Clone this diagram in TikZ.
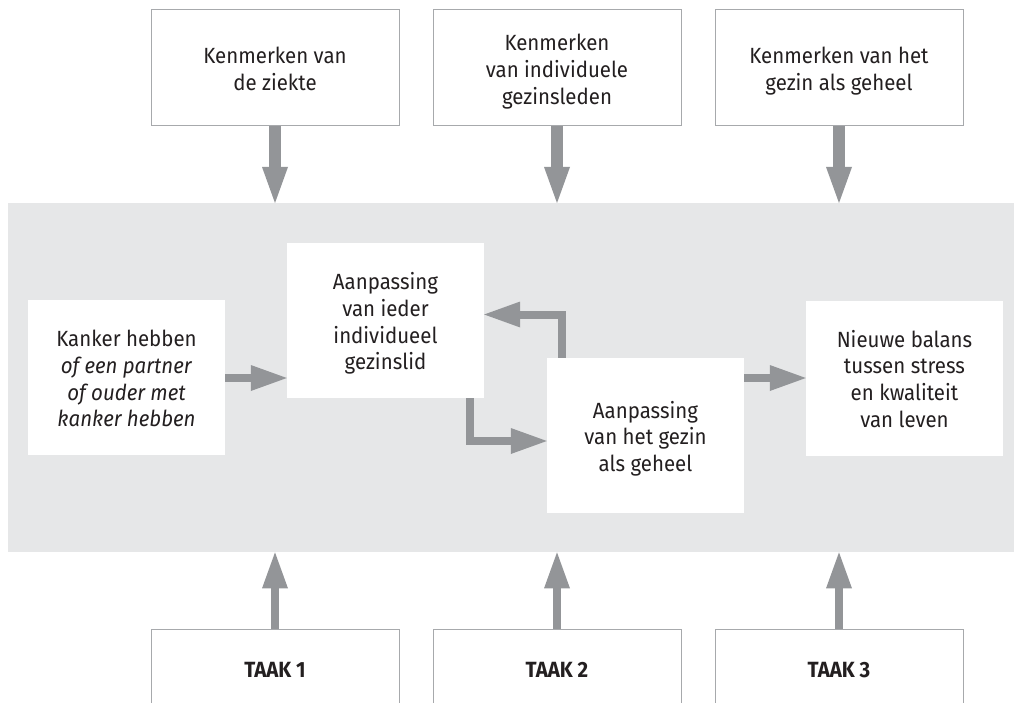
\documentclass[tikz,border=0pt]{standalone}
\usepackage{fontspec}
\setmainfont{Fira Sans}[FakeStretch=0.93]
\usetikzlibrary{arrows.meta}
\definecolor{arrgray}{HTML}{939598}
\definecolor{bggray}{HTML}{E6E7E8}
\definecolor{bordergray}{HTML}{A7A9AC}
\definecolor{textc}{HTML}{231F20}
\newcommand\lowtext[1]{\raisebox{-4pt}[\height][\depth]{\begin{tabular}{@{}c@{}}#1\end{tabular}}}
\tikzset{
  boxtext/.style={align=center, text=textc, font=\fontsize{22}{26.7}\selectfont, inner sep=0pt},
  topbox/.style={boxtext, draw=bordergray, line width=1pt, fill=white, minimum width=248pt, minimum height=116pt},
  taakbox/.style={topbox, minimum height=82pt, font=\fontsize{22}{26}\selectfont\bfseries},
  inbox/.style={boxtext, fill=white, minimum width=197pt, minimum height=155pt},
  conn/.style={draw=arrgray, line width=8pt, line join=miter, -{Triangle[length=36pt,width=26pt,line width=0pt]}},
  connthick/.style={conn, line width=12pt},
}
\begin{document}
\begin{tikzpicture}[x=1pt,y=-1pt]
\useasboundingbox (0,0) rectangle (1014,703);
\clip (0,0) rectangle (1014,703);
\node[fill=bggray, minimum width=1006pt, minimum height=349pt, inner sep=0pt, anchor=north west] (bg) at (8,203) {};
% top boxes
\node[topbox] (k1) at (275,68) {\lowtext{Kenmerken van\\de ziekte}};
\node[topbox] (k2) at (557,68) {\lowtext{Kenmerken\\van individuele\\gezinsleden}};
\node[topbox] (k3) at (839,68) {\lowtext{Kenmerken van het\\gezin als geheel}};
% bottom boxes
\node[taakbox] (t1) at (275,670) {TAAK 1};
\node[taakbox] (t2) at (557,670) {TAAK 2};
\node[taakbox] (t3) at (839,670) {TAAK 3};
% inner boxes
\node[inbox] (A) at (126.5,377.5) {\lowtext{Kanker hebben\\\textit{of een partner}\\\textit{of ouder met}\\\textit{kanker hebben}}};
\node[inbox] (B) at (385.5,320.5) {\lowtext{Aanpassing\\van ieder\\individueel\\gezinslid}};
\node[inbox] (C) at (645.5,435.5) {\lowtext{Aanpassing\\van het gezin\\als geheel}};
\node[inbox] (D) at (904.5,378) {\lowtext{Nieuwe balans\\tussen stress\\en kwaliteit\\van leven}};
% arrows top
\draw[connthick] (k1.south) -- (k1.south |- bg.north);
\draw[connthick] (k2.south) -- (k2.south |- bg.north);
\draw[connthick] (k3.south) -- (k3.south |- bg.north);
% arrows bottom
\draw[conn] (t1.north) -- (t1.north |- bg.south);
\draw[conn] (t2.north) -- (t2.north |- bg.south);
\draw[conn] (t3.north) -- (t3.north |- bg.south);
% inner arrows
\draw[conn] ([yshift=-0.5pt]A.east) -- ([yshift=-0.5pt]A.east -| B.west);
\draw[conn] (D.west -| C.east) -- (D.west);
\draw[conn] ([xshift=84.5pt]B.south) |- ([yshift=-5.5pt]C.west);
\draw[conn] ([xshift=-83.5pt]C.north) |- ([yshift=6pt]B.east);
\end{tikzpicture}
\end{document}
